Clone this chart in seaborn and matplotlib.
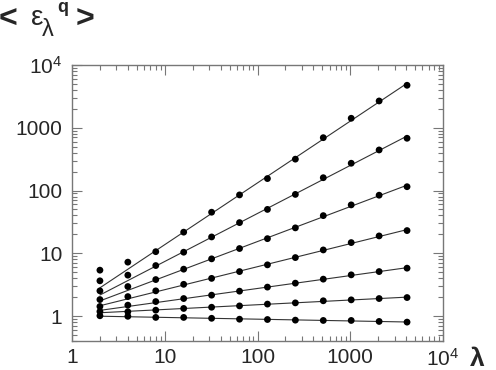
import numpy as np
import pandas as pd
import matplotlib
matplotlib.use("Agg")
import matplotlib.pyplot as plt
import seaborn as sns

# scale lambda and the seven moment curves
lam = [2, 4, 8, 16, 32, 64, 128, 256, 512, 1024, 2048, 4096]
q1 = [5.38, 7.22, 10.6, 21.7, 45.1, 85.1, 155, 316, 695, 1416, 2672, 4753]
q2 = [3.64, 4.48, 6.37, 10.4, 18.2, 30.8, 50.0, 86.7, 160, 272, 443, 680]
q3 = [2.52, 2.95, 3.81, 5.58, 8.15, 11.9, 17.1, 25.4, 39.8, 59.0, 84.2, 115]
q4 = [1.83, 2.04, 2.52, 3.20, 3.98, 5.11, 6.54, 8.54, 11.3, 14.8, 18.9, 23.0]
q5 = [1.42, 1.49, 1.70, 1.90, 2.15, 2.49, 2.89, 3.34, 3.87, 4.53, 5.11, 5.79]
q6 = [1.18, 1.17, 1.24, 1.32, 1.38, 1.45, 1.55, 1.62, 1.75, 1.81, 1.90, 1.97]
q7 = [1.01, 0.99, 0.95, 0.95, 0.92, 0.89, 0.88, 0.86, 0.85, 0.85, 0.82, 0.80]

df = pd.DataFrame({'lam': lam, 'q1': q1, 'q2': q2, 'q3': q3, 'q4': q4,
                   'q5': q5, 'q6': q6, 'q7': q7})
df = df.melt(id_vars='lam', var_name='series', value_name='eps')

sns.set_style("ticks")
plt.rcParams['font.family'] = ['Liberation Sans', 'DejaVu Sans']
plt.rcParams['mathtext.default'] = 'regular'

fig = plt.figure(figsize=(4.96, 3.70), dpi=100)
ax = fig.add_axes([72 / 496, 1 - 341 / 370, 371 / 496, 276 / 370])

# power-law fit lines (fit on lambda >= 16)
for name, grp in df.groupby('series'):
    sub = grp[grp['lam'] >= 16]
    k, b = np.polyfit(np.log10(sub['lam']), np.log10(sub['eps']), 1)
    ax.plot(grp['lam'], 10 ** (b + k * np.log10(grp['lam'])),
            color='#333333', lw=0.8, zorder=2)

sns.scatterplot(data=df, x='lam', y='eps', hue='series',
                palette=['black'] * 7, s=24, edgecolor='none',
                legend=False, ax=ax, zorder=3)

ax.set_xscale('log')
ax.set_yscale('log')
ax.set_xlim(1, 1e4)
ax.set_ylim(0.4, 1e4)

ticks = [1, 10, 100, 1000, 1e4]
labels = ['1', '10', '100', '1000', '$10^4$']
ax.set_xticks(ticks, labels)
ax.set_yticks(ticks, labels)
ax.set_xlabel('')
ax.set_ylabel('')

ax.tick_params(which='both', direction='in', top=True, right=True,
               color='#777777', labelsize=15)
ax.tick_params(which='major', length=7, width=0.8)
ax.tick_params(which='minor', length=3.5, width=0.8)
ax.tick_params(axis='x', pad=5)
ax.tick_params(axis='y', pad=7)
for sp in ax.spines.values():
    sp.set_color('#777777')
    sp.set_linewidth(1.0)

# axis labels drawn as figure text
def px(x, y):
    return x / 496, 1 - y / 370

fig.text(*px(-1, 28), '<', fontsize=23, weight='bold', va='baseline')
fig.text(*px(31, 25), 'ε', fontsize=20, va='baseline')
fig.text(*px(42, 36), 'λ', fontsize=17, va='baseline')
fig.text(*px(57, 12), 'q', fontsize=13, weight='bold', va='baseline')
fig.text(*px(76, 28), '>', fontsize=23, weight='bold', va='baseline')
fig.text(*px(470, 366), 'λ', fontsize=19, weight='bold', va='baseline')

fig.savefig('out.png', dpi=100)
